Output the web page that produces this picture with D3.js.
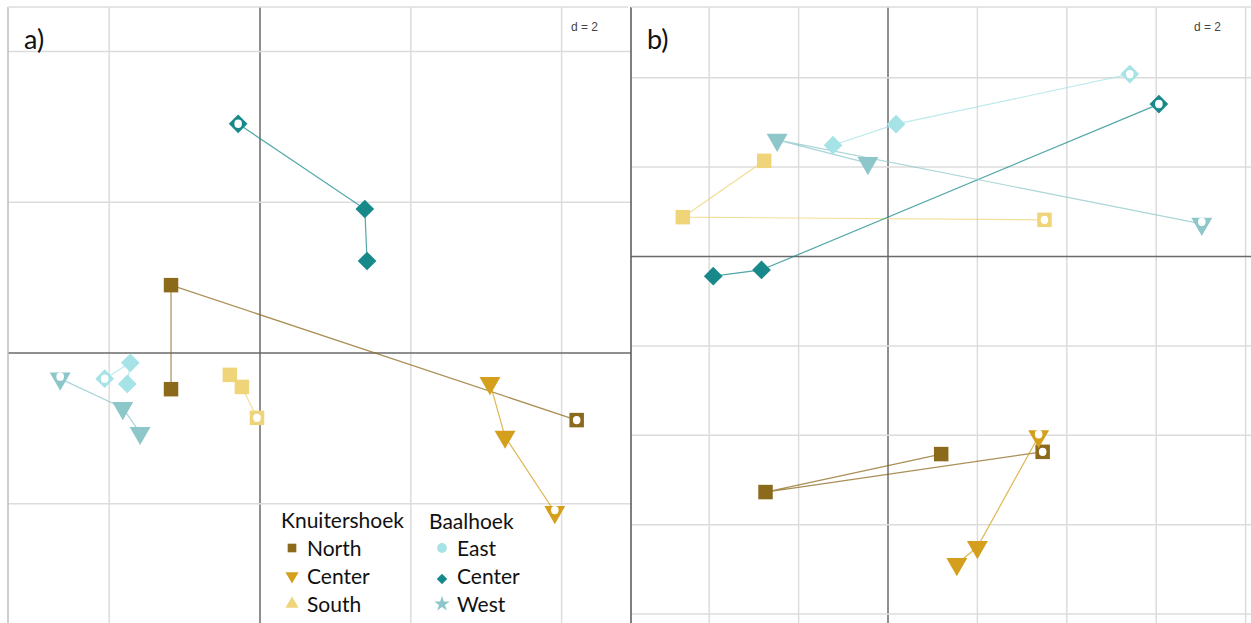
<!DOCTYPE html>
<html>
<head>
<meta charset="utf-8">
<script src="https://cdn.jsdelivr.net/npm/d3@7"></script>
<style>
  body { margin: 0; background: #fff; }
  svg { display: block; }
</style>
</head>
<body>
<svg id="chart" width="1251" height="623"></svg>
<script>
// series (order of points along each trajectory, last one = open marker)
const seriesNames = ["North", "Center", "South", "East", "Center", "West"];
const seriesColors = ["#8c6a1c", "#d49f1c", "#f0d47a", "#a6e3e6", "#17898a", "#8ec7ca"];
const seriesShapes = ["square", "triDown", "square", "diamond", "diamond", "triDown"];

// panel a)
const aNorth  = [[-1.18, -0.48], [-1.18, 0.90], [4.20, -0.89]];
const aCenter = [[3.05, -0.40], [3.25, -1.11], [3.91, -2.11]];
const aSouth  = [[-0.40, -0.29], [-0.24, -0.45], [-0.04, -0.86]];
const aEast   = [[-1.76, -0.41], [-1.72, -0.13], [-2.06, -0.34]];
const aBCenter = [[1.42, 1.22], [1.39, 1.91], [-0.29, 3.04]];
const aWest   = [[-1.59, -1.06], [-1.82, -0.73], [-2.65, -0.34]];

// panel b)
const bNorth  = [[1.19, -4.42], [-2.74, -5.27], [3.46, -4.37]];
const bCenter = [[1.54, -6.88], [2.00, -6.50], [3.37, -4.02]];
const bSouth  = [[-2.77, 2.14], [-4.59, 0.88], [3.50, 0.82]];
const bEast   = [[-1.23, 2.49], [0.18, 2.96], [5.41, 4.08]];
const bBCenter = [[-3.91, -0.44], [-2.83, -0.30], [6.06, 3.41]];
const bWest   = [[-0.45, 2.09], [-2.48, 2.61], [7.02, 0.73]];

const legendK = ["North", "Center", "South"];
const legendB = ["East", "Center", "West"];

const svg = d3.select("#chart");

function drawPanel(opt) {
    const x = d3.scaleLinear().domain(opt.xDomain).range([opt.left, opt.right]);
    const y = d3.scaleLinear().domain(opt.yDomain).range([opt.top, opt.bottom]);
    const g = svg.append("g");

    // grid every d = 2
    const xt = d3.range(Math.ceil(opt.xDomain[0] / 2) * 2, opt.xDomain[1], 2);
    const yt = d3.range(Math.ceil(opt.yDomain[1] / 2) * 2, opt.yDomain[0], 2);

    g.selectAll(".vg").data(xt).enter().append("line")
        .attr("x1", d => x(d)).attr("x2", d => x(d))
        .attr("y1", opt.top).attr("y2", opt.bottom)
        .attr("stroke", d => d === 0 ? "#6a6a6a" : "#dcdcdc")
        .attr("stroke-width", 1.5);
    g.selectAll(".hg").data(yt).enter().append("line")
        .attr("x1", opt.left).attr("x2", opt.right + opt.gridExtra)
        .attr("y1", d => y(d)).attr("y2", d => y(d))
        .attr("stroke", d => d === 0 ? "#6a6a6a" : "#dcdcdc")
        .attr("stroke-width", 1.5);

    // frame
    g.append("line").attr("x1", opt.left).attr("x2", opt.left)
        .attr("y1", opt.top).attr("y2", opt.bottom)
        .attr("stroke", opt.frameColor).attr("stroke-width", 1.5);
    g.append("line").attr("x1", opt.left).attr("x2", opt.right)
        .attr("y1", opt.top).attr("y2", opt.top)
        .attr("stroke", "#dcdcdc").attr("stroke-width", 1.5);

    g.append("text").attr("x", opt.left + 16).attr("y", 49)
        .attr("font-family", "Lato, 'Open Sans', sans-serif")
        .attr("font-size", 27).attr("fill", "#111").text(opt.label);
    g.append("text").attr("x", opt.right - 30).attr("y", 31)
        .attr("text-anchor", "end")
        .attr("font-family", "'Liberation Sans', Arial, sans-serif")
        .attr("font-size", 12).attr("fill", "#444").text("d = 2");

    const line = d3.line().x(d => x(d[0])).y(d => y(d[1]));

    opt.series.forEach((pts, i) => {
        const col = seriesColors[i];
        g.append("path").attr("d", line(pts))
            .attr("fill", "none").attr("stroke", col)
            .attr("stroke-opacity", 0.75).attr("stroke-width", 1.2);
    });

    opt.series.forEach((pts, i) => {
        const col = seriesColors[i];
        const shape = seriesShapes[i];
        pts.forEach((p, j) => {
            const cx = x(p[0]), cy = y(p[1]);
            const m = g.append("g").attr("transform", `translate(${cx},${cy})`);
            if (shape === "square") {
                m.append("path").attr("d", d3.symbol(d3.symbolSquare, 210)())
                    .attr("fill", col);
            } else if (shape === "diamond") {
                m.append("path").attr("d", d3.symbol(d3.symbolSquare, 175)())
                    .attr("transform", "rotate(45)").attr("fill", col);
            } else {
                m.append("path").attr("d", d3.symbol(d3.symbolTriangle, 190)())
                    .attr("transform", "rotate(180)").attr("fill", col);
            }
            if (j === pts.length - 1) {
                m.append("ellipse").attr("cx", 0).attr("cy", shape === "triDown" ? -2 : 0)
                    .attr("rx", 3.8).attr("ry", 4.2).attr("fill", "#fff");
            }
        });
    });
    return g;
}

drawPanel({
    xDomain: [(8 - 260) / 75.4, (628 - 260) / 75.4],
    yDomain: [(353 - 7) / 75.4, (353 - 623) / 75.4],
    left: 8, right: 628, top: 7, bottom: 623, gridExtra: 3,
    frameColor: "#bdbdbd", label: "a)",
    series: [aNorth, aCenter, aSouth, aEast, aBCenter, aWest]
});

drawPanel({
    xDomain: [(631 - 888) / 44.7, (1251 - 888) / 44.7],
    yDomain: [(256.5 - 7) / 44.7, (256.5 - 623) / 44.7],
    left: 631, right: 1251, top: 7, bottom: 623, gridExtra: 0,
    frameColor: "#555", label: "b)",
    series: [bNorth, bCenter, bSouth, bEast, bBCenter, bWest]
});

// legend in panel a)
const lg = svg.append("g").attr("font-family", "Lato, 'Open Sans', sans-serif").attr("fill", "#111");
const legShapes = [d3.symbolSquare, d3.symbolTriangle, d3.symbolTriangle, d3.symbolCircle, d3.symbolSquare, d3.symbolStar];
const legRot = [0, 180, 0, 0, 45, 0];

lg.append("text").attr("x", 281).attr("y", 528).attr("font-size", 21).text("Knuitershoek");
lg.append("text").attr("x", 429).attr("y", 529).attr("font-size", 21).text("Baalhoek");

[legendK, legendB].forEach((names, c) => {
    names.forEach((nm, r) => {
        const k = c * 3 + r;
        const sx = c === 0 ? 292 : 442;
        const sy = 548 + r * 28;
        lg.append("path")
            .attr("d", d3.symbol(legShapes[k], k === 4 ? 55 : 75)())
            .attr("transform", `translate(${sx},${sy + (k === 4 ? 3 : 0)}) rotate(${legRot[k]})`)
            .attr("fill", seriesColors[k]);
        lg.append("text").attr("x", sx + 15).attr("y", sy + 8)
            .attr("font-size", 21).text(nm);
    });
});
</script>
</body>
</html>
